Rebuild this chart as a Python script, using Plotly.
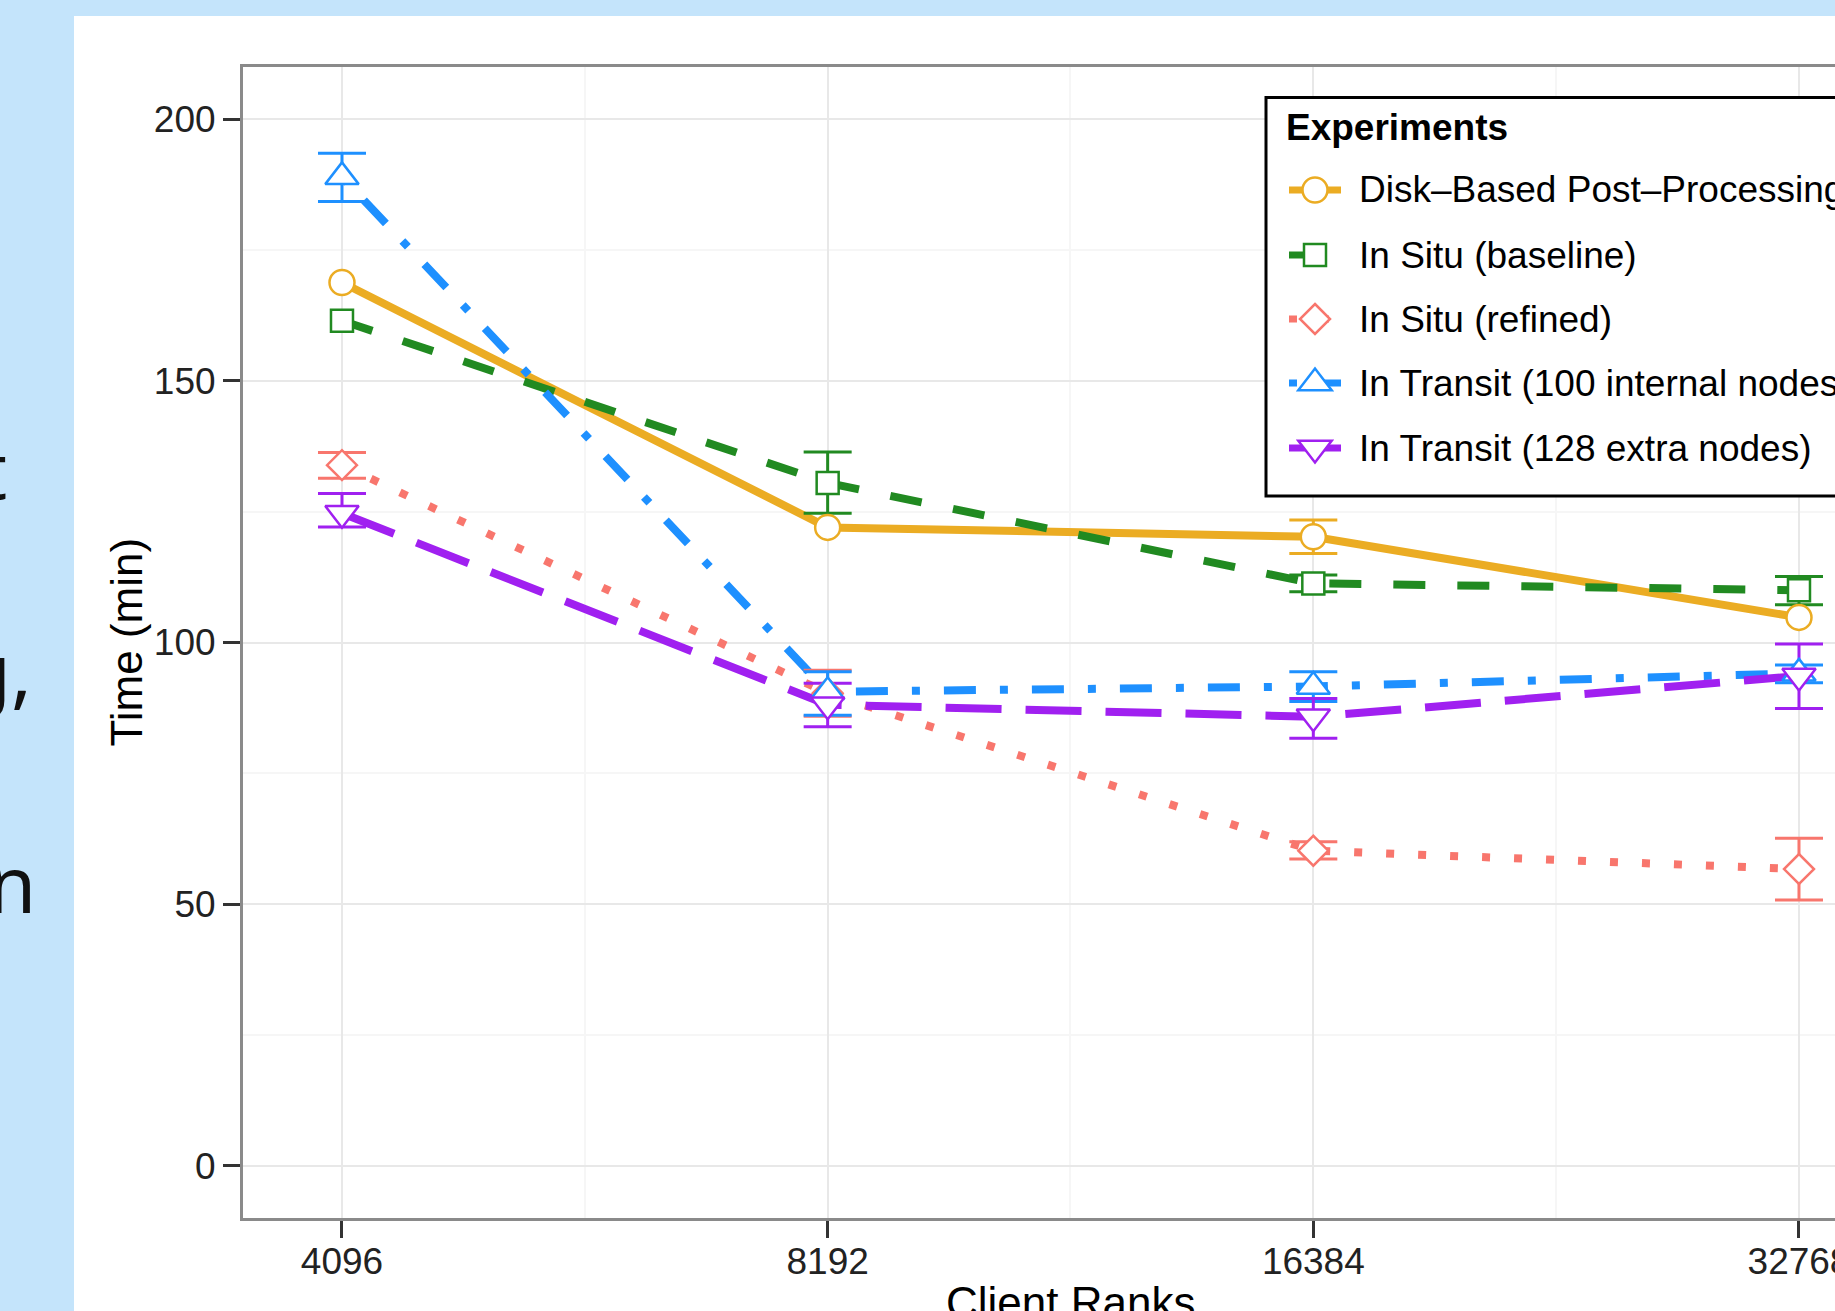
import plotly.graph_objects as go
import math

# ---------------- data ----------------
ranks = [4096, 8192, 16384, 32768]
rank_labels = ["4096", "8192", "16384", "32768"]

names = ["Disk\u2013Based Post\u2013Processing", "In Situ (baseline)", "In Situ (refined)",
         "In Transit (100 internal nodes)", "In Transit (128 extra nodes)"]

# None = no error bar visible at that point
disk = [168.8, 122.0, 120.2, 104.8]
disk_hi = [None, None, 123.4, None]
disk_lo = [None, None, 117.0, None]

baseline = [161.5, 130.5, 111.3, 110.0]
baseline_hi = [None, 136.4, 112.9, 112.6]
baseline_lo = [None, 124.7, 109.7, 107.2]

refined = [133.9, 90.3, 60.2, 56.7]
refined_hi = [136.3, 94.7, 61.9, 62.6]
refined_lo = [131.4, 85.9, 58.6, 50.8]

transit100 = [189.0, 90.6, 91.6, 94.1]
transit100_hi = [193.5, 94.4, 94.4, 95.7]
transit100_lo = [184.3, 86.1, 88.7, 92.3]

transit128 = [124.7, 88.1, 85.8, 93.6]
transit128_hi = [128.5, 92.2, 89.3, 99.7]
transit128_lo = [122.1, 83.9, 81.7, 87.4]

y_ticks = [0, 50, 100, 150, 200]
y_minor = [25, 75, 125, 175]

# ---------------- styles ----------------
colors = ["#EBAC23", "#218A21", "#F8766D", "#1E90FF", "#A020F0"]
dashes = ["solid", "32px,32px", "8px,24px", "8px,24px,32px,24px", "56px,24px"]
symbols = ["circle", "square", "diamond", "triangle-up", "triangle-down"]
sizes = [25, 22, 23, 29, 29]
values = [disk, baseline, refined, transit100, transit128]
his = [disk_hi, baseline_hi, refined_hi, transit100_hi, transit128_hi]
los = [disk_lo, baseline_lo, refined_lo, transit100_lo, transit128_lo]

W, H = 1835, 1311
FONT = "Liberation Sans"


def px(x):
    return x / W


def py(y):
    return 1 - y / H


fig = go.Figure()

# lines
for name, v, c, d in zip(names, values, colors, dashes):
    fig.add_trace(go.Scatter(x=ranks, y=v, mode="lines", name=name, showlegend=False,
                             line=dict(color=c, width=8, dash=d)))
# error bars (only where the picture shows them)
for name, v, hi, lo, c in zip(names, values, his, los, colors):
    idx = [i for i in range(len(v)) if hi[i] is not None]
    fig.add_trace(go.Scatter(
        x=[ranks[i] for i in idx], y=[v[i] for i in idx], mode="markers", showlegend=False,
        marker=dict(size=1, opacity=0),
        error_y=dict(type="data", symmetric=False,
                     array=[hi[i] - v[i] for i in idx],
                     arrayminus=[v[i] - lo[i] for i in idx],
                     color=c, thickness=3, width=24)))
# points
for name, v, c, s, sz in zip(names, values, colors, symbols, sizes):
    fig.add_trace(go.Scatter(x=ranks, y=v, mode="markers", showlegend=False,
                             marker=dict(symbol=s, size=sz, color="white",
                                         line=dict(color=c, width=2.5))))

x_minor = [math.sqrt(a * b) for a, b in zip(ranks, ranks[1:])]

fig.update_xaxes(
    type="log", range=[3.5510, 4.53777], domain=[px(243), 1.0],
    tickvals=ranks, ticktext=rank_labels,
    ticks="outside", ticklen=17, tickwidth=3, tickcolor="#333333",
    tickfont=dict(family=FONT, size=37, color="#222222"), ticklabelstandoff=-8,
    ticklabeloverflow="allow",
    showgrid=True, gridcolor="#E8E8E8", gridwidth=2,
    minor=dict(tickvals=x_minor, showgrid=True, gridcolor="#F6F6F6", gridwidth=2, ticks=""),
    showline=True, linecolor="#8A8A8A", linewidth=3, mirror=True,
    zeroline=False, automargin=False,
)
fig.update_yaxes(
    range=[-10, 210], domain=[py(1218), py(67)],
    tickvals=y_ticks, ticktext=[str(t) for t in y_ticks],
    ticks="outside", ticklen=17, tickwidth=3, tickcolor="#333333",
    tickfont=dict(family=FONT, size=37, color="#222222"), ticklabelstandoff=0,
    ticklabeloverflow="allow",
    showgrid=True, gridcolor="#E8E8E8", gridwidth=2,
    minor=dict(tickvals=y_minor, showgrid=True, gridcolor="#F6F6F6", gridwidth=2, ticks=""),
    showline=True, linecolor="#8A8A8A", linewidth=3, mirror=False,
    zeroline=False, automargin=False,
)

shapes = []
# white slide panel
shapes.append(dict(type="rect", xref="paper", yref="paper", x0=px(74), x1=px(W + 50),
                   y0=py(16), y1=py(H + 50), fillcolor="white", line=dict(width=0), layer="below"))

# ---------------- legend (drawn by hand, clipped at right edge like the original) -------------
LX0, LY0, LY1 = 1266, 97.5, 496
shapes.append(dict(type="rect", xref="paper", yref="paper", x0=px(LX0), x1=px(W + 60),
                   y0=py(LY1), y1=py(LY0), fillcolor="white",
                   line=dict(color="black", width=3), layer="above"))
rows = [190, 255, 319, 383, 448]
KX0, KX1, KC = 1289, 1341, 1315


def poly(pts):
    return "M " + " L ".join(f"{px(a):.6f},{py(b):.6f}" for a, b in pts) + " Z"


annotations = []
for r, name, c, d, s in zip(rows, names, colors, dashes, symbols):
    shapes.append(dict(type="line", xref="paper", yref="paper", x0=px(KX0), x1=px(KX1),
                       y0=py(r), y1=py(r), line=dict(color=c, width=7, dash=d), layer="above"))
    mk = dict(xref="paper", yref="paper", fillcolor="white", line=dict(color=c, width=2.5), layer="above")
    if s == "circle":
        shapes.append(dict(type="circle", x0=px(KC - 12.5), x1=px(KC + 12.5),
                           y0=py(r + 12.5), y1=py(r - 12.5), **mk))
    elif s == "square":
        shapes.append(dict(type="rect", x0=px(KC - 11), x1=px(KC + 11),
                           y0=py(r + 11), y1=py(r - 11), **mk))
    elif s == "diamond":
        shapes.append(dict(type="path", path=poly([(KC, r - 15), (KC + 15, r), (KC, r + 15), (KC - 15, r)]), **mk))
    elif s == "triangle-up":
        shapes.append(dict(type="path", path=poly([(KC - 16.7, r + 7.3), (KC + 16.7, r + 7.3), (KC, r - 14.5)]), **mk))
    else:
        shapes.append(dict(type="path", path=poly([(KC - 16.7, r - 7.3), (KC + 16.7, r - 7.3), (KC, r + 14.5)]), **mk))
    annotations.append(dict(xref="paper", yref="paper", x=px(1357), y=py(r), xanchor="left",
                            yanchor="middle", text=name, showarrow=False,
                            font=dict(family=FONT, size=37, color="black")))

annotations.append(dict(xref="paper", yref="paper", x=px(1284), y=py(127), xanchor="left",
                        yanchor="middle", text="<b>Experiments</b>", showarrow=False,
                        font=dict(family=FONT, size=37, color="black")))

# axis titles
annotations.append(dict(xref="paper", yref="paper", x=px(126), y=py(642.5), textangle=-90,
                        xanchor="center", yanchor="middle", text="Time (min)", showarrow=False,
                        font=dict(family=FONT, size=44, color="black")))
annotations.append(dict(xref="paper", yref="paper", x=px(1070), y=py(1302), xanchor="center",
                        yanchor="middle", text="Client Ranks", showarrow=False,
                        font=dict(family=FONT, size=44, color="black")))

# fragments of slide text cut off at the left edge
for txt, xr, yc in [("t", 9, 469), ("g,", 34, 670), ("n", 38, 883)]:
    annotations.append(dict(xref="paper", yref="paper", x=px(xr), y=py(yc), xanchor="right",
                            yanchor="middle", text=txt, showarrow=False,
                            font=dict(family="Noto Sans", size=78, color="#111111")))

fig.update_layout(
    width=W, height=H, template="none",
    margin=dict(l=0, r=0, t=0, b=0, pad=0, autoexpand=False),
    paper_bgcolor="#C4E4FB", plot_bgcolor="white",
    showlegend=False, shapes=shapes, annotations=annotations,
    font=dict(family=FONT),
)

fig.write_html("out.html", config={"displayModeBar": False},
               post_script="document.body.style.margin='0';document.body.style.overflow='hidden';")
